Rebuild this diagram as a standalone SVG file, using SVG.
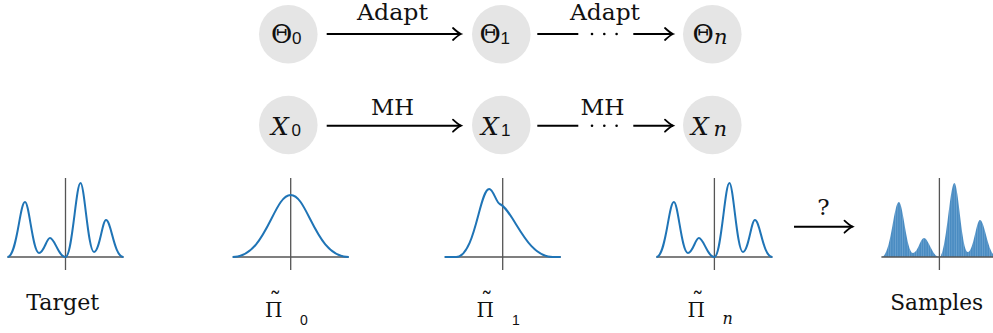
<svg xmlns="http://www.w3.org/2000/svg" xmlns:xlink="http://www.w3.org/1999/xlink" width="993" height="333" viewBox="0 0 993 333">
<style>
.node{fill:#e5e5e5;}
.serif{font-family:"DejaVu Serif","Liberation Serif",serif;fill:#111;}
.sym{font-size:26px;}
.it{font-style:italic;font-size:25px;}
.sub{font-family:"Liberation Sans",Arial,sans-serif;font-size:17px;fill:#111;}
.subn{font-family:"DejaVu Serif","Liberation Serif",serif;font-style:italic;font-size:21px;}
.lbl{font-size:23px;}
.pi{font-size:20px;}
.tilde{font-size:24px;}
.psub{font-family:"Liberation Sans",Arial,sans-serif;font-size:14px;}
.psubn{font-family:"DejaVu Serif","Liberation Serif",serif;font-style:italic;font-size:16px;}
.conn{stroke:#000;stroke-width:1.9;fill:none;}
.axis{stroke:#555;stroke-width:1.3;fill:none;}
.curve{stroke:#1f74b6;stroke-width:2;fill:none;stroke-linejoin:round;}
.hist{fill:url(#bars);stroke:none;}
.dot{fill:#000;}
</style>
<defs>
<marker id="head" markerUnits="userSpaceOnUse" markerWidth="14" markerHeight="14" refX="0" refY="0" viewBox="-10 -7 12 14" orient="auto" overflow="visible">
<path d="M-8,-6 Q-3,-1.3 0,0 Q-3,1.3 -8,6" fill="none" stroke="#000" stroke-width="1.8" stroke-linecap="round"/>
</marker>
<pattern id="bars" patternUnits="userSpaceOnUse" width="2.35" height="20" x="0.3">
<rect width="2.35" height="20" fill="#4a8cc2"/>
<rect width="0.4" height="20" fill="#88b6dc"/>
</pattern>
<path id="multi" d="M-58,0 C-48.4,0 -45.75,-55 -40.5,-55 C-36.3,-55 -32.8,-4 -26.5,-4 C-21.5,-4 -19,-19 -15.5,-19 C-10.8,-19 -7,0 0,0 C6.8,0 10.5,-74 15,-74 C19,-74 22.5,-5 28.5,-5 C34,-5 36.9,-37 40.5,-37 C45.75,-37 48.4,0 58,0"/>
<path id="gauss" d="M-58,0 C-24.5,0 -17.4,-62 0,-62 C17.4,-62 24.5,0 58,0"/>
<path id="skew" d="M-58,0 L-46.5,0 C-27.5,0 -23.1,-68 -13.5,-68 C-9.5,-68 -6.5,-54.5 -3,-53 C11,-47 23,0 50,0 L58,0"/>
<path id="axes" d="M-58,0 H58 M0,-79 V13"/>
</defs>

<g id="connectors">
<line class="conn" x1="326.7" y1="34" x2="461" y2="34" marker-end="url(#head)"/>
<line class="conn" x1="537.3" y1="34" x2="578.3" y2="34"/>
<circle class="dot" cx="592" cy="34" r="1.3"/>
<circle class="dot" cx="604.3" cy="34" r="1.3"/>
<circle class="dot" cx="616.6" cy="34" r="1.3"/>
<line class="conn" x1="633.3" y1="34" x2="673" y2="34" marker-end="url(#head)"/>
<line class="conn" x1="326.7" y1="125.7" x2="461" y2="125.7" marker-end="url(#head)"/>
<line class="conn" x1="537.3" y1="125.7" x2="578.3" y2="125.7"/>
<circle class="dot" cx="592" cy="125.7" r="1.3"/>
<circle class="dot" cx="604.3" cy="125.7" r="1.3"/>
<circle class="dot" cx="616.6" cy="125.7" r="1.3"/>
<line class="conn" x1="633.3" y1="125.7" x2="673" y2="125.7" marker-end="url(#head)"/>
<line class="conn" x1="794" y1="226.7" x2="852.5" y2="226.7" marker-end="url(#head)"/>
<text class="serif" font-size="23" x="392.5" y="20" text-anchor="middle" textLength="71" lengthAdjust="spacingAndGlyphs">Adapt</text>
<text class="serif" font-size="23" x="605" y="20" text-anchor="middle" textLength="70" lengthAdjust="spacingAndGlyphs">Adapt</text>
<text class="serif lbl" x="392.5" y="115" text-anchor="middle" textLength="43" lengthAdjust="spacingAndGlyphs">MH</text>
<text class="serif lbl" x="602.5" y="115" text-anchor="middle" textLength="44" lengthAdjust="spacingAndGlyphs">MH</text>
<text class="serif lbl" x="823.5" y="215" text-anchor="middle">?</text>
</g>

<g id="theta0"><circle class="node" cx="288.3" cy="34.2" r="29.3"/><text class="serif sym" x="271" y="42.7">Θ<tspan class="sub" x="292" y="44">0</tspan></text></g>
<g id="theta1"><circle class="node" cx="501.3" cy="34.2" r="29.3"/><text class="serif sym" x="479.5" y="42.7">Θ<tspan class="sub" x="500.5" y="44">1</tspan></text></g>
<g id="thetan"><circle class="node" cx="712.3" cy="34.2" r="29.3"/><text class="serif sym" x="692.5" y="42.7">Θ<tspan class="subn" x="714" y="44">n</tspan></text></g>
<g id="x0"><circle class="node" cx="288.3" cy="125" r="29.3"/><text class="serif sym it" x="271" y="135">X<tspan class="sub" x="291.5" y="136" font-style="normal">0</tspan></text></g>
<g id="x1"><circle class="node" cx="501.3" cy="125" r="29.3"/><text class="serif sym it" x="481" y="135">X<tspan class="sub" x="501" y="136" font-style="normal">1</tspan></text></g>
<g id="xn"><circle class="node" cx="712.3" cy="125" r="29.3"/><text class="serif sym it" x="691" y="135">X<tspan class="subn" x="713.5" y="136">n</tspan></text></g>

<g id="target">
<use href="#axes" class="axis" transform="translate(65.5,257)"/>
<use href="#multi" class="curve" transform="translate(65.5,257)"/>
<text class="serif lbl" x="62.7" y="310" text-anchor="middle" textLength="73" lengthAdjust="spacingAndGlyphs">Target</text>
</g>
<g id="pi0">
<use href="#axes" class="axis" transform="translate(290.7,257)"/>
<use href="#gauss" class="curve" transform="translate(290.7,257)"/>
<text class="serif pi" x="265" y="317.3">Π<tspan class="tilde" x="269.3" y="309.5">˜</tspan><tspan class="psub" x="300" y="324.5">0</tspan></text>
</g>
<g id="pi1">
<use href="#axes" class="axis" transform="translate(502.7,257)"/>
<use href="#skew" class="curve" transform="translate(502.7,257)"/>
<text class="serif pi" x="476.5" y="317.3">Π<tspan class="tilde" x="480.8" y="309.5">˜</tspan><tspan class="psub" x="512" y="325">1</tspan></text>
</g>
<g id="pin">
<use href="#axes" class="axis" transform="translate(714.4,257)"/>
<use href="#multi" class="curve" transform="translate(714.4,257)"/>
<text class="serif pi" x="687.5" y="317.3">Π<tspan class="tilde" x="691.8" y="309.5">˜</tspan><tspan class="psubn" x="722.5" y="323.5">n</tspan></text>
</g>
<g id="samples">
<use href="#multi" class="hist" transform="translate(939.4,257)"/>
<use href="#axes" class="axis" transform="translate(939.4,257)"/>
<text class="serif lbl" x="936.7" y="310" text-anchor="middle" textLength="93" lengthAdjust="spacingAndGlyphs">Samples</text>
</g>
</svg>
